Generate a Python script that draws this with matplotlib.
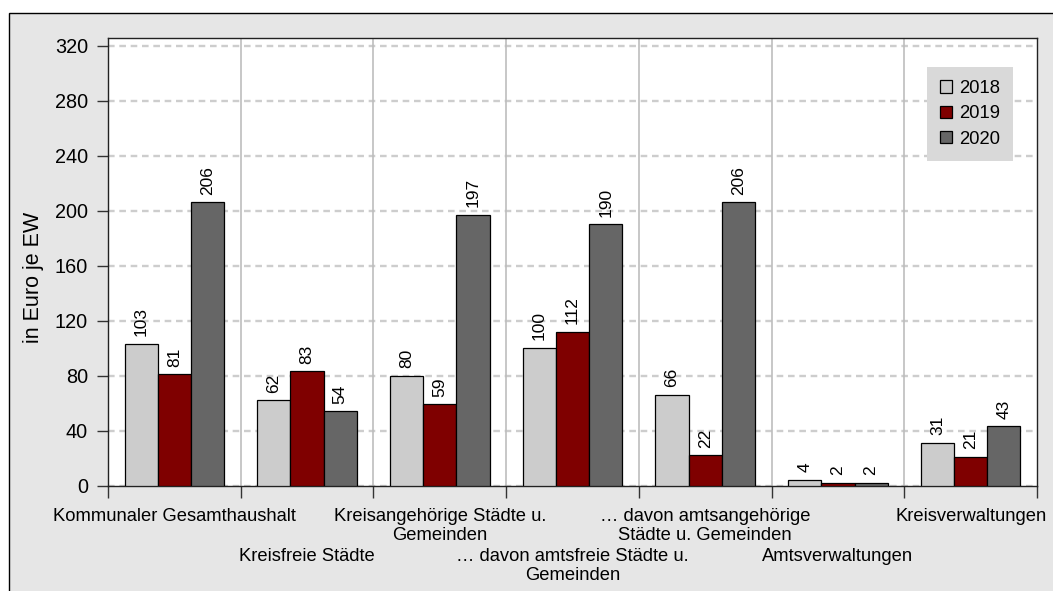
import matplotlib
matplotlib.use("Agg")
import matplotlib.pyplot as plt
from matplotlib.patches import Rectangle, Patch
import numpy as np

plt.rcParams['font.family'] = ['Liberation Sans', 'DejaVu Sans']

categories = [
    "Kommunaler Gesamthaushalt",
    "Kreisfreie Städte",
    "Kreisangehörige Städte u.\nGemeinden",
    "… davon amtsfreie Städte u.\nGemeinden",
    "… davon amtsangehörige\nStädte u. Gemeinden",
    "Amtsverwaltungen",
    "Kreisverwaltungen",
]
years = ["2018", "2019", "2020"]
values_2018 = [103, 62, 80, 100, 66, 4, 31]
values_2019 = [81, 83, 59, 112, 22, 2, 21]
values_2020 = [206, 54, 197, 190, 206, 2, 43]
y_ticks = [0, 40, 80, 120, 160, 200, 240, 280, 320]

series = [values_2018, values_2019, values_2020]
colors = ["#cccccc", "#7f0000", "#666666"]

W, H, DPI = 1053, 591, 100
fig = plt.figure(figsize=(W / DPI, H / DPI), dpi=DPI, facecolor="white")

# grey panel with a thin black frame
panel = Rectangle((8.5 / W, -0.05), 1.2, (H - 12.5) / H + 0.05,
                  transform=fig.transFigure, facecolor="#e6e6e6",
                  edgecolor="black", linewidth=1.0, zorder=-1)
fig.patches.append(panel)

ax = fig.add_axes([108 / W, (H - 485.5) / H, (1037 - 108) / W, (485.5 - 38) / H])
ax.set_facecolor("white")

fs_tick = 14.3
fs_bar = 12.5
fs_cat = 13.2
fs_leg = 13.3
fs_ylab = 15.5

n = len(categories)
x = np.arange(n)
bw = 0.25
offsets = [-bw, 0, bw]

for vals, col, off, lab in zip(series, colors, offsets, years):
    bars = ax.bar(x + off, vals, width=bw, color=col, edgecolor="black",
                  linewidth=0.9, label=lab, zorder=3)
    for b, v in zip(bars, vals):
        ax.annotate(str(v), (b.get_x() + b.get_width() / 2, v),
                    xytext=(0, 5.5), textcoords="offset points",
                    rotation=90, ha="center", va="bottom", fontsize=fs_bar, zorder=4)

ax.set_xlim(-0.5, n - 0.5)
ax.set_ylim(0, 325.5)
ax.set_yticks(y_ticks)
ax.set_yticklabels([str(t) for t in y_ticks], fontsize=fs_tick)

# horizontal dashed grid
for t in y_ticks:
    ax.axhline(t, color="#cdcdcd", linewidth=1.7, linestyle=(0, (2.8, 2.0)), zorder=1)
# vertical separators between groups
for b in np.arange(0.5, n - 0.5, 1.0):
    ax.axvline(b, color="#bdbdbd", linewidth=1.2, zorder=1)

boundaries = np.arange(-0.5, n, 1.0)
ax.set_xticks(boundaries)
ax.set_xticklabels([])
ax.tick_params(axis="x", direction="out", length=8.5, width=1.0, color="#333333")
ax.tick_params(axis="y", direction="out", length=8, width=1.0, pad=6.5, color="#333333")

for s in ax.spines.values():
    s.set_color("#222222")
    s.set_linewidth(1.0)

# category labels in two staggered rows
for i, cat in enumerate(categories):
    dy = -16 if i % 2 == 0 else -45
    ax.annotate(cat, (i, 0), xycoords=ax.get_xaxis_transform(),
                xytext=(0, dy), textcoords="offset points",
                ha="center", va="top", fontsize=fs_cat, linespacing=1.17,
                annotation_clip=False)

fig.text(34 / W, 1 - 277 / H, "in Euro je EW", rotation=90,
         ha="center", va="center", fontsize=fs_ylab)

handles = [Patch(facecolor=c, edgecolor="black", linewidth=0.9) for c in colors]
leg = ax.legend(handles, years, loc="upper right", bbox_to_anchor=(0.974, 0.935),
                fontsize=fs_leg, frameon=True, fancybox=False, framealpha=1,
                handlelength=0.65, handleheight=0.65, handletextpad=0.4,
                labelspacing=0.45, borderpad=0.7, borderaxespad=0)
leg.get_frame().set_facecolor("#d9d9d9")
leg.get_frame().set_edgecolor("none")
leg.set_zorder(5)

fig.savefig("out.png", dpi=DPI, facecolor="white")
